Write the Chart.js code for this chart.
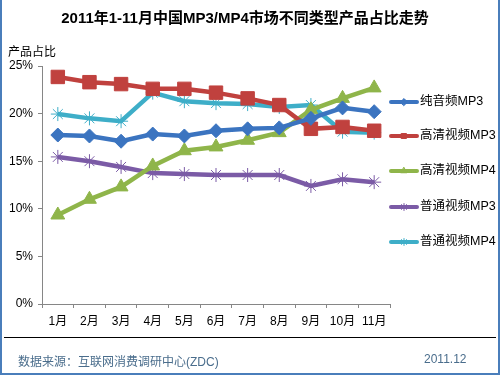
<!DOCTYPE html>
<html>
<head>
<meta charset="utf-8">
<script src="https://cdn.jsdelivr.net/npm/chart.js@4/dist/chart.umd.min.js"></script>
<style>
  body { margin: 0; background: #fff; }
  #wrap { position: relative; width: 500px; height: 375px; overflow: hidden;
          font-family: "Liberation Sans", "Noto Sans CJK SC", sans-serif; }
  #frame { position: absolute; left: 0; top: 0; width: 496px; height: 373px;
           border: 2px solid #4a7ebb; border-top: none; }
  #title { position: absolute; left: 0; top: 6px; width: 490px; text-align: center;
           font-size: 15px; font-weight: bold; color: #000; }
  #ylabel { position: absolute; left: 8px; top: 42px; font-size: 12px; color: #000; }
  #sep { position: absolute; left: 4px; top: 337px; width: 492px; height: 0; border-top: 1px solid #000; }
  #src { position: absolute; left: 18px; top: 352px; font-size: 12px; color: #4a6d8c; }
  #date { position: absolute; left: 424px; top: 352px; font-size: 12px; color: #4a6d8c; }
  canvas { position: absolute; left: 0; top: 0; }
</style>
</head>
<body>
<div id="wrap">
  <canvas id="c" width="500" height="375"></canvas>
  <div id="frame"></div>
  <div id="title">2011年1-11月中国MP3/MP4市场不同类型产品占比走势</div>
  <div id="ylabel">产品占比</div>
  <div id="sep"></div>
  <div id="src">数据来源：互联网消费调研中心(ZDC)</div>
  <div id="date">2011.12</div>
</div>
<script>
const months = ['1月', '2月', '3月', '4月', '5月', '6月', '7月', '8月', '9月', '10月', '11月'];

const audioMP3 = [17.75, 17.65, 17.1, 17.85, 17.65, 18.2, 18.4, 18.5, 19.5, 20.6, 20.2];
const hdMP3 = [23.85, 23.3, 23.1, 22.6, 22.6, 22.2, 21.6, 20.9, 18.4, 18.6, 18.2];
const hdMP4 = [9.35, 11.0, 12.3, 14.5, 16.1, 16.5, 17.2, 18.0, 20.4, 21.6, 22.7];
const normalMP3 = [15.45, 15.0, 14.4, 13.75, 13.65, 13.55, 13.55, 13.55, 12.4, 13.1, 12.8];
const normalMP4 = [19.95, 19.5, 19.2, 22.2, 21.3, 21.1, 21.0, 20.7, 20.9, 18.1, 18.0];

function series(label, data, color, style, radius) {
  return {
    label, data,
    borderColor: color,
    backgroundColor: color,
    pointStyle: style,
    pointRadius: radius,
    pointBorderWidth: 1,
    pointBorderColor: color,
    borderWidth: 4.5,
    tension: 0
  };
}

// legend on the right: line sample with a small marker
const sideLegend = {
  id: 'sideLegend',
  afterDraw(chart) {
    const ctx = chart.ctx;
    const ys = [102, 136, 171, 207, 242];
    chart.data.datasets.forEach((ds, i) => {
      const y = ys[i];
      ctx.save();
      ctx.strokeStyle = ds.borderColor;
      ctx.lineWidth = 4;
      ctx.lineCap = 'round';
      ctx.beginPath();
      ctx.moveTo(391, y);
      ctx.lineTo(417, y);
      ctx.stroke();
      ctx.fillStyle = ds.borderColor;
      ctx.lineWidth = 1;
      Chart.helpers.drawPoint(ctx, { pointStyle: ds.pointStyle, radius: 3.5, borderWidth: 1, rotation: 0 }, 404, y);
      ctx.fillStyle = '#000';
      ctx.font = '12.5px "Liberation Sans", "Noto Sans CJK SC", sans-serif';
      ctx.textBaseline = 'middle';
      ctx.fillText(ds.label, 420, y);
      ctx.restore();
    });
  }
};

new Chart(document.getElementById('c').getContext('2d'), {
  type: 'line',
  data: {
    labels: months,
    datasets: [
      series('纯音频MP3', audioMP3, '#3b74c0', 'rectRot', 7),
      series('高清视频MP3', hdMP3, '#c0413e', 'rect', 9.5),
      series('高清视频MP4', hdMP4, '#8fb54a', 'triangle', 8),
      series('普通视频MP3', normalMP3, '#7b5ba6', 'star', 7),
      series('普通视频MP4', normalMP4, '#3eaec8', 'star', 7)
    ]
  },
  options: {
    responsive: false,
    animation: false,
    layout: { padding: { top: 66, right: 110, bottom: 41, left: 0 } },
    plugins: { legend: { display: false }, tooltip: { enabled: false } },
    scales: {
      y: {
        min: 0, max: 25,
        afterFit: s => { s.width = 42; },
        ticks: {
          stepSize: 5,
          padding: 5,
          color: '#000',
          font: { size: 12, family: '"Liberation Sans", sans-serif' },
          callback: v => v + '%'
        },
        grid: { drawOnChartArea: false, tickLength: 4, color: '#868686' },
        border: { color: '#868686' }
      },
      x: {
        offset: true,
        afterFit: s => { s.height = 30; },
        ticks: {
          padding: 6,
          color: '#000',
          font: { size: 12, family: '"Liberation Sans", "Noto Sans CJK SC", sans-serif' }
        },
        grid: { offset: true, drawOnChartArea: false, tickLength: 4, color: '#868686' },
        border: { color: '#868686' }
      }
    }
  },
  plugins: [sideLegend]
});
</script>
</body>
</html>
